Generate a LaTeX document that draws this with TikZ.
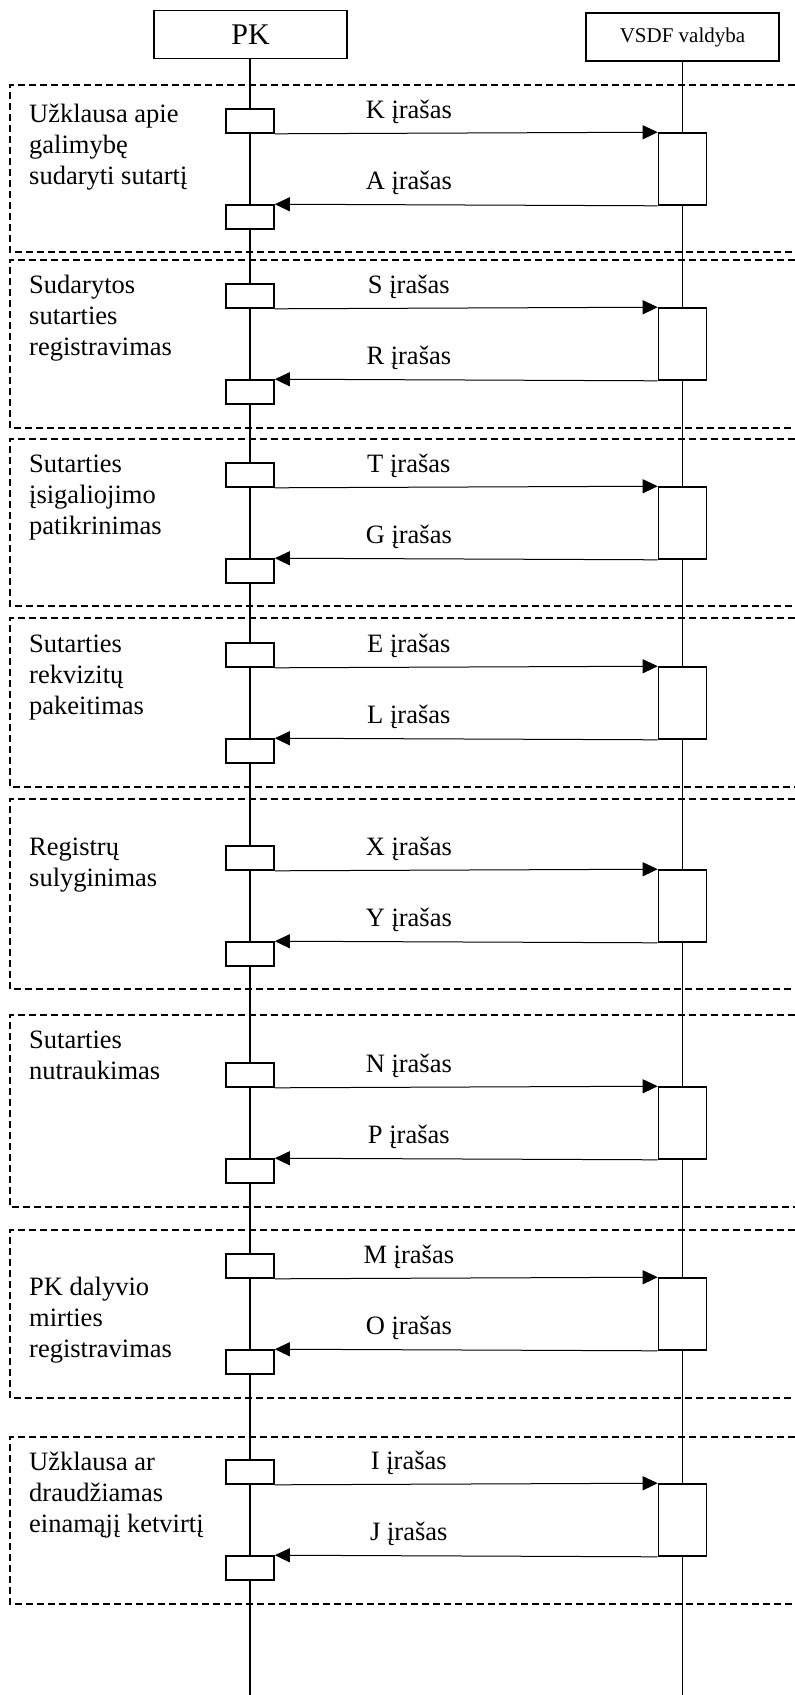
\documentclass[tikz,border=0pt]{standalone}
\usepackage{fontspec}
\setmainfont{Liberation Serif}
\usetikzlibrary{arrows.meta,positioning}

\newcommand{\txtfont}{\fontsize{26.5}{31}\selectfont}
\newcommand{\pkfont}{\fontsize{30}{36}\selectfont}
\newcommand{\vsdffont}{\fontsize{21}{25}\selectfont}

\begin{document}
\begin{tikzpicture}[x=1pt, y=-1pt,
    head/.style={draw, line width=1.6pt, inner sep=0pt, minimum width=193pt, minimum height=48pt},
    act/.style={draw, fill=white, line width=1.6pt, inner sep=0pt, minimum width=48pt, minimum height=24pt},
    vact/.style={act, minimum height=72pt},
    lane/.style={line width=1.6pt},
    msg/.style={-{Triangle[length=15pt,width=14pt]}, line width=1pt},
    group/.style={dash pattern=on 7pt off 4pt, line width=1.3pt},
    note/.style={anchor=base west, align=left, font=\txtfont, inner sep=0pt},
    lbl/.style={anchor=base, font=\txtfont, inner sep=0pt, yshift=15pt}]
                \useasboundingbox (0,0) rectangle (795,1695);

                \node[head, font=\pkfont]   (pk)   at (250.5,34.5) {PK};
                \node[head, font=\vsdffont] (vsdf) at (682.5,37)   {VSDF valdyba};
                \coordinate (pkend)   at (250,1695);
                \coordinate (vsdfend) at (682.5,1695);
                \draw[lane] (pk.south -| pkend) -- (pkend);
                \draw[lane] (vsdf.south) -- (vsdfend);

                \draw[group] (795,85)   -- (10,85)   -- (10,252)  -- (795,252);
                \draw[group] (795,260)  -- (10,260)  -- (10,428)  -- (795,428);
                \draw[group] (795,439)  -- (10,439)  -- (10,606)  -- (795,606);
                \draw[group] (795,618)  -- (10,618)  -- (10,787)  -- (795,787);
                \draw[group] (795,799)  -- (10,799)  -- (10,989)  -- (795,989);
                \draw[group] (795,1015) -- (10,1015) -- (10,1207) -- (795,1207);
                \draw[group] (795,1230) -- (10,1230) -- (10,1398) -- (795,1398);
                \draw[group] (795,1437) -- (10,1437) -- (10,1604) -- (795,1604);

                % anchored at the baseline of the last line
                \node[note] (t1) at (29,184)  {Užklausa apie\\galimybę\\sudaryti sutartį};
                \node[note] (t2) at (29,355)  {Sudarytos\\sutarties\\registravimas};
                \node[note] (t3) at (29,534)  {Sutarties\\įsigaliojimo\\patikrinimas};
                \node[note] (t4) at (29,714)  {Sutarties\\rekvizitų\\pakeitimas};
                \node[note] (t5) at (29,886)  {Registrų\\sulyginimas};
                \node[note] (t6) at (29,1079) {Sutarties\\nutraukimas};
                \node[note] (t7) at (29,1357) {PK dalyvio\\mirties\\registravimas};
                \node[note] (t8) at (29,1532) {Užklausa ar\\draudžiamas\\einamąjį ketvirtį};

                \node[act]  (s1) at (250,121)    {};
                \node[vact] (v1) at (682.5,169)  {};
                \node[act]  (r1) at (250,217)    {};
                \node[act]  (s2) at (250,296)    {};
                \node[vact] (v2) at (682.5,344)  {};
                \node[act]  (r2) at (250,392)    {};
                \node[act]  (s3) at (250,475)    {};
                \node[vact] (v3) at (682.5,523)  {};
                \node[act]  (r3) at (250,571)    {};
                \node[act]  (s4) at (250,655)    {};
                \node[vact] (v4) at (682.5,703)  {};
                \node[act]  (r4) at (250,751)    {};
                \node[act]  (s5) at (250,858)    {};
                \node[vact] (v5) at (682.5,906)  {};
                \node[act]  (r5) at (250,954)    {};
                \node[act]  (s6) at (250,1075)   {};
                \node[vact] (v6) at (682.5,1123) {};
                \node[act]  (r6) at (250,1171)   {};
                \node[act]  (s7) at (250,1266)   {};
                \node[vact] (v7) at (682.5,1314) {};
                \node[act]  (r7) at (250,1362)   {};
                \node[act]  (s8) at (250,1472)   {};
                \node[vact] (v8) at (682.5,1520) {};
                \node[act]  (r8) at (250,1568)   {};

                \draw[msg] (s1.south east) -- node[lbl, pos=.35] {K įrašas} (v1.north west);
                \draw[msg] (v1.south west) -- node[lbl, pos=.65] {A įrašas} (r1.north east);
                \draw[msg] (s2.south east) -- node[lbl, pos=.35] {S įrašas} (v2.north west);
                \draw[msg] (v2.south west) -- node[lbl, pos=.65] {R įrašas} (r2.north east);
                \draw[msg] (s3.south east) -- node[lbl, pos=.35] {T įrašas} (v3.north west);
                \draw[msg] (v3.south west) -- node[lbl, pos=.65] {G įrašas} (r3.north east);
                \draw[msg] (s4.south east) -- node[lbl, pos=.35] {E įrašas} (v4.north west);
                \draw[msg] (v4.south west) -- node[lbl, pos=.65] {L įrašas} (r4.north east);
                \draw[msg] (s5.south east) -- node[lbl, pos=.35] {X įrašas} (v5.north west);
                \draw[msg] (v5.south west) -- node[lbl, pos=.65] {Y įrašas} (r5.north east);
                \draw[msg] (s6.south east) -- node[lbl, pos=.35] {N įrašas} (v6.north west);
                \draw[msg] (v6.south west) -- node[lbl, pos=.65] {P įrašas} (r6.north east);
                \draw[msg] (s7.south east) -- node[lbl, pos=.35] {M įrašas} (v7.north west);
                \draw[msg] (v7.south west) -- node[lbl, pos=.65] {O įrašas} (r7.north east);
                \draw[msg] (s8.south east) -- node[lbl, pos=.35] {I įrašas} (v8.north west);
                \draw[msg] (v8.south west) -- node[lbl, pos=.65] {J įrašas} (r8.north east);
            \end{tikzpicture}
\end{document}
